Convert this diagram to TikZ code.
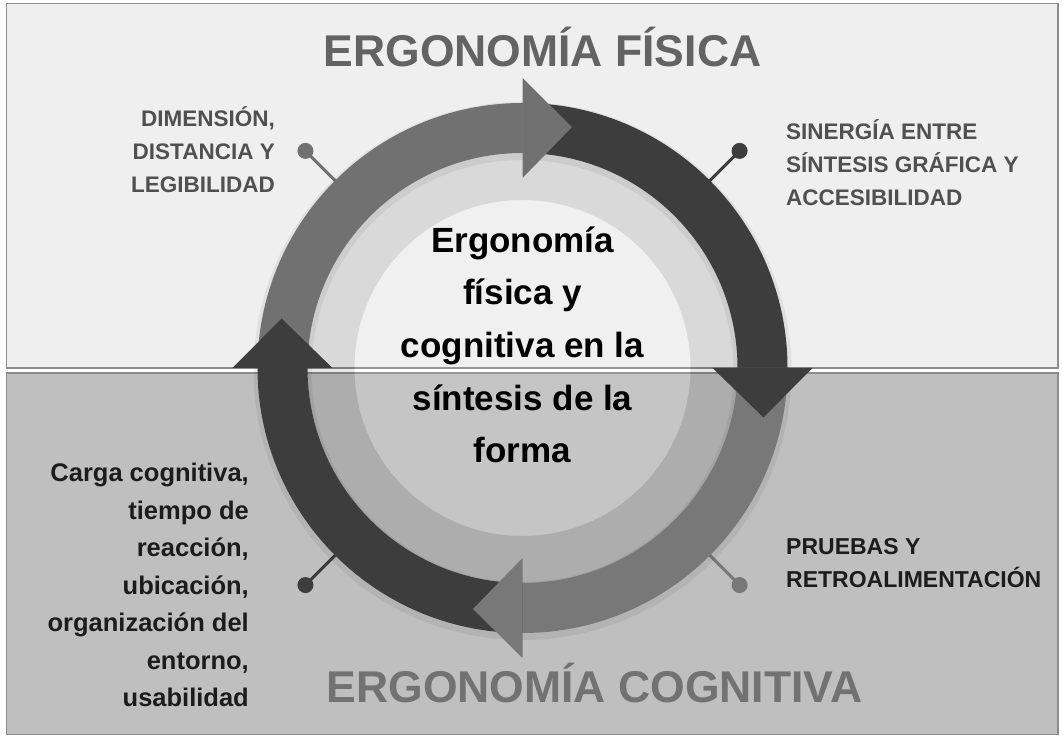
\documentclass[tikz,border=0pt]{standalone}
\usepackage{fontspec}
\setmainfont{Liberation Sans}
\usetikzlibrary{calc}
\definecolor{bgtop}{HTML}{EFEFEF}
\definecolor{bgbot}{HTML}{BFBFBF}
\definecolor{panelborder}{HTML}{8C8C8C}
\definecolor{armmid}{HTML}{717171}
\definecolor{armmidb}{HTML}{787878}
\definecolor{armdark}{HTML}{3D3D3D}
\definecolor{titletop}{HTML}{636363}
\definecolor{titlebot}{HTML}{727272}
\definecolor{lblgray}{HTML}{505050}
\definecolor{lbldark}{HTML}{1C1C1C}
\tikzset{
  panel/.style={draw=panelborder, line width=1.5pt},
  pindot/.style={circle, inner sep=0pt, minimum size=16pt, draw=none},
  pinline/.style={line width=3pt},
  title/.style={inner sep=0pt, font=\fontsize{44.5}{50}\selectfont\bfseries},
  lbl/.style={inner sep=0pt, font=\fontsize{22.5}{33}\selectfont\bfseries},
  lblbig/.style={inner sep=0pt, font=\fontsize{25.5}{37.5}\selectfont\bfseries},
  centertext/.style={inner sep=0pt, align=center, font=\fontsize{35}{52.7}\selectfont\bfseries}
}
\begin{document}
\begin{tikzpicture}[x=1pt,y=1pt]
\useasboundingbox (0,0) rectangle (1063,738);
\fill[white] (0,0) rectangle (1063,738);
% panels
\draw[panel, fill=bgtop] (6.5,734.5) rectangle (1058,370);
\draw[panel, fill=bgbot] (6.5,365) rectangle (1058,3.5);
\coordinate (C) at (522.5,370);
% inner band and disc
\fill[black, opacity=0.09, even odd rule] (C) circle[radius=216] (C) circle[radius=168];
\fill[white, opacity=0.1] (C) circle[radius=168];
% pins
\coordinate (pinAo) at ($(C)+(135:250)$);
\coordinate (pinBo) at ($(C)+(45:250)$);
\coordinate (pinCo) at ($(C)+(-45:250)$);
\coordinate (pinDo) at ($(C)+(-135:250)$);
\node[pindot, fill=armmid] (pinA) at ($(C)+(135:307)$) {};
\node[pindot, fill=armdark] (pinB) at ($(C)+(45:307)$) {};
\node[pindot, fill=armmidb] (pinC) at ($(C)+(-45:307)$) {};
\node[pindot, fill=armdark] (pinD) at ($(C)+(-135:307)$) {};
\draw[pinline, armmid] (pinAo) -- (pinA.center);
\draw[pinline, armdark] (pinBo) -- (pinB.center);
\draw[pinline, armmidb] (pinCo) -- (pinC.center);
\draw[pinline, armdark] (pinDo) -- (pinD.center);
% soft shadow of ring
\fill[black, opacity=0.06, even odd rule] ($(C)+(0,-3)$) circle[radius=269] ($(C)+(0,-3)$) circle[radius=211];
% arrow bodies
\foreach \a/\b/\c in {180/90/armmid, 90/0/armdark, 0/-90/armmidb, -90/-180/armdark}{
  \fill[\c] ($(C)+(\a:265)$) arc[start angle=\a, end angle=\b, radius=265]
     -- ($(C)+(\b:215)$) arc[start angle=\b, end angle=\a, radius=215] -- cycle;
}
% arrow heads
\foreach \b/\c in {90/armmid, 0/armdark, -90/armmidb, 180/armdark}{
  \fill[\c] ($(C)+(\b:190)$) -- ($(C)+(\b:290)$) -- ($(C)+({\b-11.6}:246)$) -- cycle;
}
% titles
\node[title, text=titletop, anchor=base] (ttop) at (542.5,671.3) {ERGONOMÍA FÍSICA};
\node[title, text=titlebot, anchor=base] (tbot) at (594.5,35) {ERGONOMÍA COGNITIVA};
% centre (base anchor = last line baseline)
\node[centertext, anchor=base] (ctr) at (522.5,275) {Ergonomía\\física y\\cognitiva en la\\síntesis de la\\forma};
% labels
\node[lbl, text=lblgray, align=right, anchor=base east] (ltl) at (275,545) {DIMENSIÓN,\\DISTANCIA Y\\LEGIBILIDAD};
\node[lbl, text=lblgray, align=left, anchor=base west] (ltr) at (786,532) {SINERGÍA ENTRE\\SÍNTESIS GRÁFICA Y\\ACCESIBILIDAD};
\node[lbl, text=lbldark, align=left, anchor=base west, font=\fontsize{23}{32.3}\selectfont\bfseries] (lbr) at (786,150.7) {PRUEBAS Y\\RETROALIMENTACIÓN};
\node[lblbig, text=lbldark, align=right, anchor=base east] (lbl) at (249,31.3) {Carga cognitiva,\\tiempo de\\reacción,\\ubicación,\\organización del\\entorno,\\usabilidad};
\end{tikzpicture}
\end{document}
